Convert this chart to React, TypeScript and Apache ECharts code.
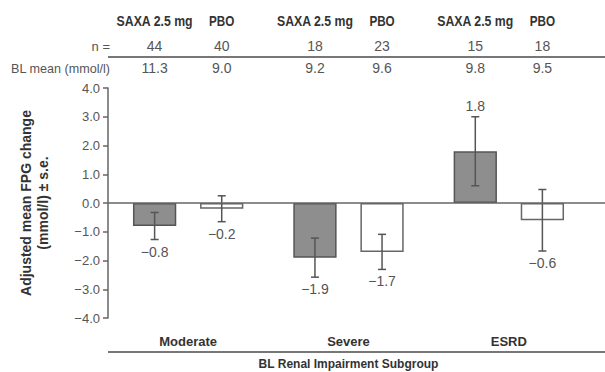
import React, { useEffect, useRef } from "react";
import * as echarts from "echarts";

const categories = ["Moderate", "Severe", "ESRD"];
const saxaMean = [-0.8, -1.9, 1.8];
const pboMean = [-0.2, -1.7, -0.6];
const saxaSE = [0.47, 0.68, 1.2];
const pboSE = [0.45, 0.61, 1.07];
const saxaN = ["44", "18", "15"];
const pboN = ["40", "23", "18"];
const saxaBL = ["11.3", "9.2", "9.8"];
const pboBL = ["9.0", "9.6", "9.5"];
const groupNames = ["SAXA 2.5 mg", "PBO"];
const yMin = -4;
const yMax = 4;
const yInterval = 1;

const FONT = "'Liberation Sans', Arial, sans-serif";
const BAR_W = 0.27;
const BAR_GAP = 0.55;

const fmt = (v: number) => (v < 0 ? "\u2212" : "") + Math.abs(v).toFixed(1);

export default function App() {
  const ref = useRef<HTMLDivElement>(null);
  useEffect(() => {
    if (!ref.current) return;
    const chart = echarts.init(ref.current, null, { renderer: "svg" });
    const errRender = (side: number) => (params: any, api: any) => {
      const idx = api.value(0);
      const mean = api.value(1);
      const se = api.value(2);
      const band = api.size([1, 0])[0];
      const off = (side * band * BAR_W * (1 + BAR_GAP)) / 2;
      const c = api.coord([idx, mean]);
      const x = c[0] + off;
      const top = api.coord([idx, mean + se])[1];
      const bot = api.coord([idx, mean - se])[1];
      const cap = 4;
      const st = { stroke: "#555", lineWidth: 1.5 };
      const ly = mean >= 0 ? top - 11 : bot + 12;
      return {
        type: "group",
        children: [
          { type: "line", shape: { x1: x, y1: top, x2: x, y2: bot }, style: st },
          { type: "line", shape: { x1: x - cap, y1: top, x2: x + cap, y2: top }, style: st },
          { type: "line", shape: { x1: x - cap, y1: bot, x2: x + cap, y2: bot }, style: st },
          {
            type: "text",
            x,
            y: ly,
            style: {
              text: fmt(mean),
              fill: "#555",
              font: `14px ${FONT}`,
              align: "center",
              verticalAlign: "middle",
            },
          },
        ],
      };
    };
    chart.setOption({
      animation: false,
      grid: { left: 108, right: 16, top: 88, bottom: 54, outerBoundsMode: "none", containLabel: false },
      xAxis: {
        type: "category",
        data: categories,
        axisLine: { show: false, onZero: false },
        axisTick: { show: false },
        axisLabel: {
          margin: 17,
          color: "#333",
          fontWeight: "bold",
          fontSize: 13,
          fontFamily: FONT,
        },
        name: "BL Renal Impairment Subgroup",
        nameLocation: "middle",
        nameGap: 40,
        nameTextStyle: { color: "#333", fontWeight: "bold", fontSize: 12, fontFamily: FONT },
      },
      yAxis: {
        type: "value",
        min: yMin,
        max: yMax,
        interval: yInterval,
        splitLine: { show: false },
        axisLine: { show: true, lineStyle: { color: "#666", width: 1.5 } },
        axisTick: { show: true, length: 5, lineStyle: { color: "#666", width: 1.5 } },
        axisLabel: {
          formatter: (v: number) => fmt(v),
          color: "#555",
          fontSize: 13,
          fontFamily: FONT,
          margin: 8,
        },
        name: "Adjusted mean FPG change\n(mmol/l) \u00b1 s.e.",
        nameLocation: "middle",
        nameRotate: 90,
        nameGap: 57,
        nameTextStyle: {
          color: "#333",
          fontWeight: "bold",
          fontSize: 14,
          fontFamily: FONT,
          lineHeight: 17,
        },
      },
      series: [
        {
          type: "bar",
          name: "SAXA",
          data: saxaMean,
          barWidth: BAR_W * 100 + "%",
          barGap: BAR_GAP * 100 + "%",
          itemStyle: { color: "#8e8e8e", borderColor: "#555", borderWidth: 1.5 },
          z: 2,
        },
        {
          type: "bar",
          name: "PBO",
          data: pboMean,
          barWidth: BAR_W * 100 + "%",
          barGap: BAR_GAP * 100 + "%",
          itemStyle: { color: "#ffffff", borderColor: "#666", borderWidth: 1.5 },
          z: 2,
        },
        {
          type: "custom",
          renderItem: errRender(-1),
          data: saxaMean.map((m, i) => [i, m, saxaSE[i]]),
          encode: { x: 0, y: 1 },
          z: 5,
        },
        {
          type: "custom",
          renderItem: errRender(1),
          data: pboMean.map((m, i) => [i, m, pboSE[i]]),
          encode: { x: 0, y: 1 },
          z: 5,
        },
      ],
    });

    const y0 = chart.convertToPixel({ yAxisIndex: 0 }, 0) as number;
    const xs0 = chart.convertToPixel({ xAxisIndex: 0 }, 0) as number;
    const xs1 = chart.convertToPixel({ xAxisIndex: 0 }, 1) as number;
    const band = xs1 - xs0;
    const off = (band * BAR_W * (1 + BAR_GAP)) / 2;
    const W = 605;
    const axisX = 108;
    const els: any[] = [];
    const txt = (
      text: string,
      x: number,
      y: number,
      size: number,
      bold: boolean,
      align = "center",
      color = "#555",
      sx = 1
    ) => ({
      type: "text",
      x,
      y,
      scaleX: sx,
      style: {
        text,
        fill: color,
        font: `${bold ? "bold " : ""}${size}px ${FONT}`,
        align,
        verticalAlign: "middle",
      },
    });
    categories.forEach((_, i) => {
      const cx = chart.convertToPixel({ xAxisIndex: 0 }, i) as number;
      const xl = cx - off;
      const xr = cx + off;
      els.push(txt(groupNames[0], xl, 21, 15, true, "center", "#333", 0.82));
      els.push(txt(groupNames[1], xr, 21, 15, true, "center", "#333", 0.78));
      els.push(txt(saxaN[i], xl, 46, 14, false));
      els.push(txt(pboN[i], xr, 46, 14, false));
      els.push(txt(saxaBL[i], xl, 68, 14, false));
      els.push(txt(pboBL[i], xr, 68, 14, false));
    });
    els.push(txt("n =", 110, 46, 13, false, "right"));
    els.push(txt("BL mean (mmol/l)", 110, 68, 13, false, "right", "#555", 0.97));
    els.push({ type: "line", shape: { x1: axisX, y1: 57, x2: W, y2: 57 }, style: { stroke: "#777", lineWidth: 2 } });
    els.push({ type: "line", shape: { x1: axisX, y1: 352, x2: W, y2: 352 }, style: { stroke: "#777", lineWidth: 2 } });
    els.push({ type: "line", z: 10, shape: { x1: axisX, y1: y0, x2: W, y2: y0 }, style: { stroke: "#666", lineWidth: 1.5 } });
    chart.setOption({ graphic: els });

    return () => chart.dispose();
  }, []);
  return <div ref={ref} style={{ width: 605, height: 372, position: "absolute", left: 0, top: 0 }} />;
}
